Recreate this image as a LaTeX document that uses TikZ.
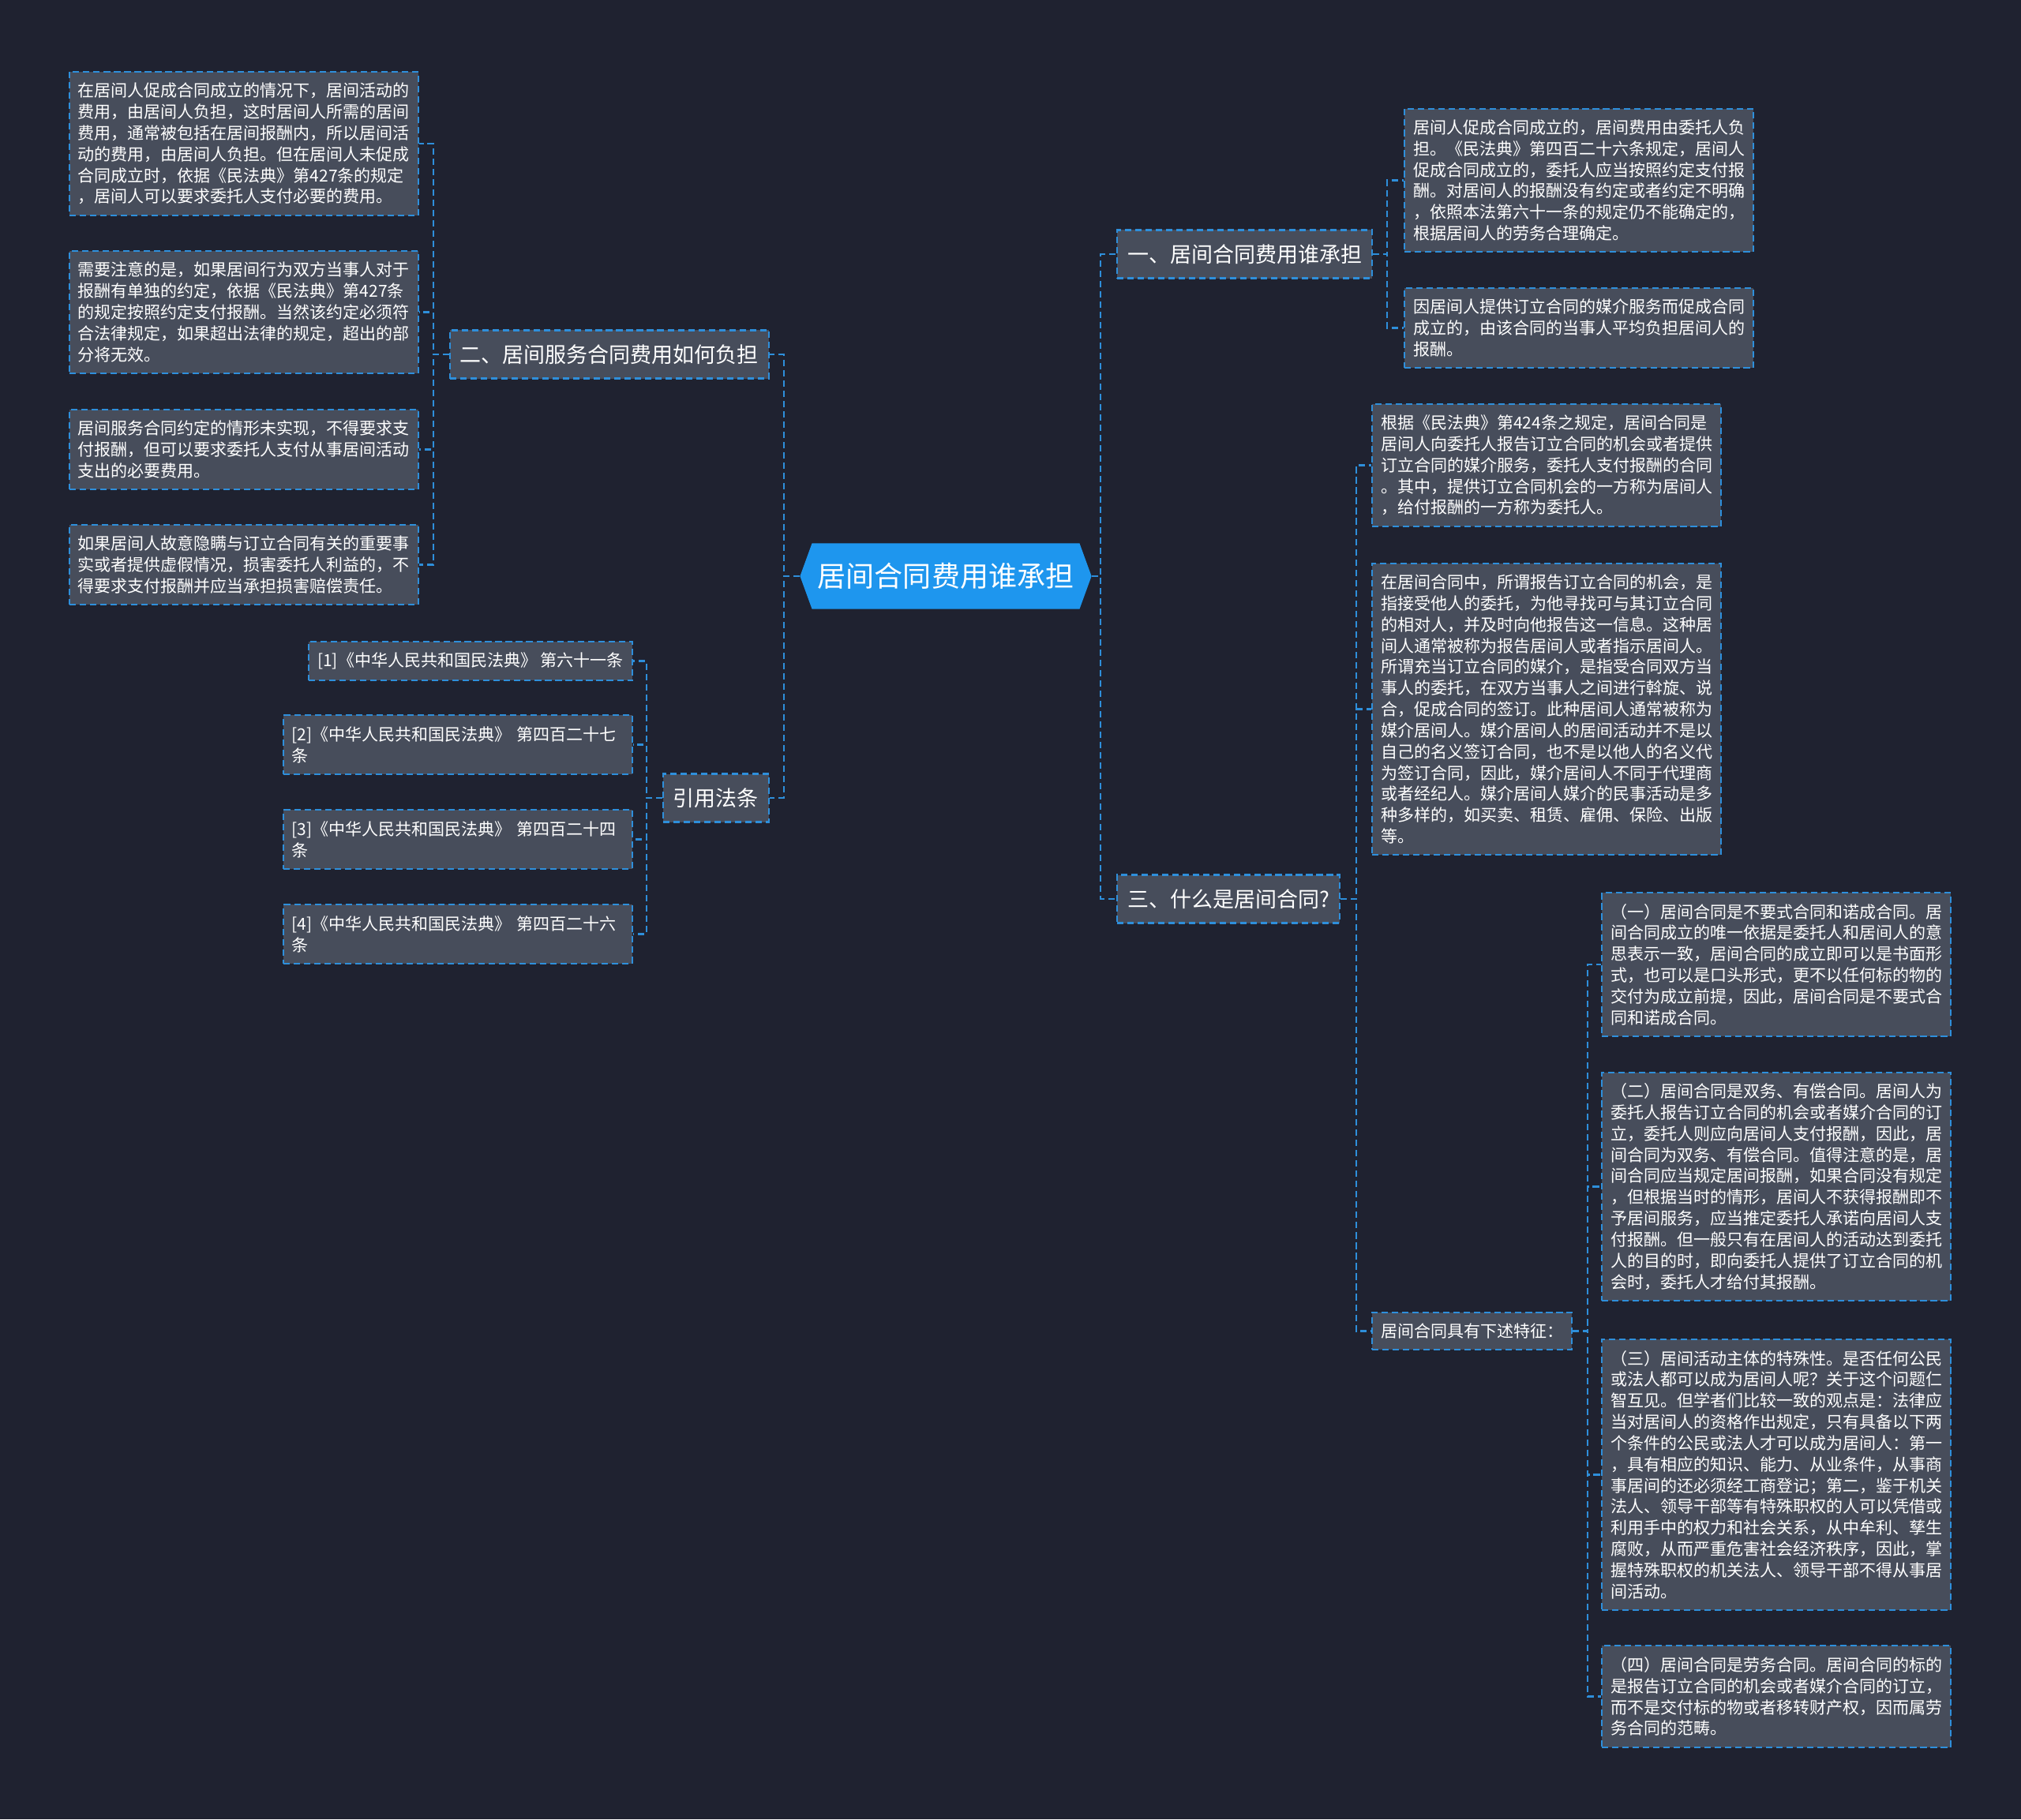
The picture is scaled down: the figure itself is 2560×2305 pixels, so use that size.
\documentclass[tikz,border=0pt]{standalone}
\usepackage{fontspec}
\setmainfont{Noto Sans CJK SC}
\usepackage{tikz}
\usetikzlibrary{shapes.symbols}
\definecolor{bgnavy}{HTML}{1F2230}
\definecolor{boxgray}{HTML}{474D5B}
\definecolor{linkblue}{HTML}{2E8FDB}
\definecolor{rootblue}{HTML}{1E96EE}

\begin{document}
\begin{tikzpicture}[x=0.01cm, y=-0.01cm,
        every node/.style={text=white},
        rootbox/.style={signal, signal to=west and east, signal pointer angle=140,
                fill=rootblue, minimum width=3.69cm, minimum height=0.83cm, inner sep=0pt,
                font=\fontsize{10.24pt}{12pt}\selectfont},
        topic/.style={draw=linkblue, dash pattern=on 2.3pt off 1.4pt, line width=0.6pt,
                fill=boxgray, minimum height=0.61cm, inner xsep=0.13cm, inner ysep=0pt,
                font=\fontsize{7.68pt}{9pt}\selectfont},
        card/.style={draw=linkblue, dash pattern=on 2.3pt off 1.4pt, line width=0.6pt,
                fill=boxgray, inner xsep=0.11cm, inner ysep=0.14cm,
                font=\fontsize{5.975pt}{7.63pt}\selectfont},
        leaf/.style={card, text width=4.2cm, align=left},
        link/.style={draw=linkblue, dash pattern=on 2.3pt off 1.4pt, line width=0.6pt}
    ]

    % ================= background =================
    \fill[bgnavy] (0,0) rectangle (2560,2305);

    % ================= root and topics =================
    \node[rootbox] (root) at (1198,730) {居间合同费用谁承担};
    \node[topic, anchor=west] (t1) at (1414,322) {一、居间合同费用谁承担};
    \node[topic, anchor=west] (t3) at (1414,1139) {三、什么是居间合同?};
    \node[topic, anchor=east] (t2) at (975,449) {二、居间服务合同费用如何负担};
    \node[topic, anchor=east] (t4) at (975,1011) {引用法条};

    % ================= 一 =================
    \node[leaf, anchor=west] (a1) at (1778,228.5) {居间人促成合同成立的，居间费用由委托人负\\
        担。《民法典》第四百二十六条规定，居间人\\促成合同成立的，委托人应当按照约定支付报\\
        酬。对居间人的报酬没有约定或者约定不明确\\，依照本法第六十一条的规定仍不能确定的，\\
        根据居间人的劳务合理确定。};
    \node[leaf, anchor=west] (a2) at (1778,415.5) {因居间人提供订立合同的媒介服务而促成合同\\
        成立的，由该合同的当事人平均负担居间人的\\报酬。};

    % ================= 三 =================
    \node[leaf, anchor=west] (c1) at (1737,589.5) {根据《民法典》第424条之规定，居间合同是\\
        居间人向委托人报告订立合同的机会或者提供\\订立合同的媒介服务，委托人支付报酬的合同\\
        。其中，提供订立合同机会的一方称为居间人\\，给付报酬的一方称为委托人。};
    \node[leaf, anchor=west] (c2) at (1737,898.5) {在居间合同中，所谓报告订立合同的机会，是\\
        指接受他人的委托，为他寻找可与其订立合同\\的相对人，并及时向他报告这一信息。这种居\\
        间人通常被称为报告居间人或者指示居间人。\\所谓充当订立合同的媒介，是指受合同双方当\\
        事人的委托，在双方当事人之间进行斡旋、说\\合，促成合同的签订。此种居间人通常被称为\\
        媒介居间人。媒介居间人的居间活动并不是以\\自己的名义签订合同，也不是以他人的名义代\\
        为签订合同，因此，媒介居间人不同于代理商\\或者经纪人。媒介居间人媒介的民事活动是多\\
        种多样的，如买卖、租赁、雇佣、保险、出版\\等。};
    \node[card, anchor=west] (c3) at (1737,1686.5) {居间合同具有下述特征：};

    \node[leaf, anchor=west] (d1) at (2028,1222) {（一）居间合同是不要式合同和诺成合同。居\\
        间合同成立的唯一依据是委托人和居间人的意\\思表示一致，居间合同的成立即可以是书面形\\
        式，也可以是口头形式，更不以任何标的物的\\交付为成立前提，因此，居间合同是不要式合\\
        同和诺成合同。};
    \node[leaf, anchor=west] (d2) at (2028,1503.5) {（二）居间合同是双务、有偿合同。居间人为\\
        委托人报告订立合同的机会或者媒介合同的订\\立，委托人则应向居间人支付报酬，因此，居\\
        间合同为双务、有偿合同。值得注意的是，居\\间合同应当规定居间报酬，如果合同没有规定\\
        ，但根据当时的情形，居间人不获得报酬即不\\予居间服务，应当推定委托人承诺向居间人支\\
        付报酬。但一般只有在居间人的活动达到委托\\人的目的时，即向委托人提供了订立合同的机\\
        会时，委托人才给付其报酬。};
    \node[leaf, anchor=west] (d3) at (2028,1868.5) {（三）居间活动主体的特殊性。是否任何公民\\
        或法人都可以成为居间人呢？关于这个问题仁\\智互见。但学者们比较一致的观点是：法律应\\
        当对居间人的资格作出规定，只有具备以下两\\个条件的公民或法人才可以成为居间人：第一\\
        ，具有相应的知识、能力、从业条件，从事商\\事居间的还必须经工商登记；第二，鉴于机关\\
        法人、领导干部等有特殊职权的人可以凭借或\\利用手中的权力和社会关系，从中牟利、孳生\\
        腐败，从而严重危害社会经济秩序，因此，掌\\握特殊职权的机关法人、领导干部不得从事居\\
        间活动。};
    \node[leaf, anchor=west] (d4) at (2028,2149.5) {（四）居间合同是劳务合同。居间合同的标的\\
        是报告订立合同的机会或者媒介合同的订立，\\而不是交付标的物或者移转财产权，因而属劳\\
        务合同的范畴。};

    % ================= 二 =================
    \node[leaf, anchor=east] (b1) at (531,182) {在居间人促成合同成立的情况下，居间活动的\\
        费用，由居间人负担，这时居间人所需的居间\\费用，通常被包括在居间报酬内，所以居间活\\
        动的费用，由居间人负担。但在居间人未促成\\合同成立时，依据《民法典》第427条的规定\\
        ，居间人可以要求委托人支付必要的费用。};
    \node[leaf, anchor=east] (b2) at (531,395.5) {需要注意的是，如果居间行为双方当事人对于\\
        报酬有单独的约定，依据《民法典》第427条\\的规定按照约定支付报酬。当然该约定必须符\\
        合法律规定，如果超出法律的规定，超出的部\\分将无效。};
    \node[leaf, anchor=east] (b3) at (531,569.5) {居间服务合同约定的情形未实现，不得要求支\\
        付报酬，但可以要求委托人支付从事居间活动\\支出的必要费用。};
    \node[leaf, anchor=east] (b4) at (531,715.5) {如果居间人故意隐瞒与订立合同有关的重要事\\
        实或者提供虚假情况，损害委托人利益的，不\\得要求支付报酬并应当承担损害赔偿责任。};

    % ================= 引用法条 =================
    \node[card, anchor=east] (r1) at (802,837.5) {[1]《中华人民共和国民法典》 第六十一条};
    \node[leaf, anchor=east] (r2) at (802,943.5) {[2]《中华人民共和国民法典》 第四百二十七\\条};
    \node[leaf, anchor=east] (r3) at (802,1063.5) {[3]《中华人民共和国民法典》 第四百二十四\\条};
    \node[leaf, anchor=east] (r4) at (802,1183.5) {[4]《中华人民共和国民法典》 第四百二十六\\条};

    % ================= connectors =================
    \draw[link] (root.east) -- ++(11,0) |- (t1.west);
    \draw[link] (root.east) -- ++(11,0) |- (t3.west);
    \draw[link] (root.west) -- ++(-20,0) |- (t2.east);
    \draw[link] (root.west) -- ++(-20,0) |- (t4.east);

    \draw[link] (t1.east) -- ++(18,0) |- (a1.west);
    \draw[link] (t1.east) -- ++(18,0) |- (a2.west);

    \draw[link] (t3.east) -- ++(20,0) |- (c1.west);
    \draw[link] (t3.east) -- ++(20,0) |- (c2.west);
    \draw[link] (t3.east) -- ++(20,0) |- (c3.west);
    \draw[link] (c3.east) -- ++(19,0) |- (d1.west);
    \draw[link] (c3.east) -- ++(19,0) |- (d2.west);
    \draw[link] (c3.east) -- ++(19,0) |- (d3.west);
    \draw[link] (c3.east) -- ++(19,0) |- (d4.west);

    \draw[link] (t2.west) -- ++(-20,0) |- (b1.east);
    \draw[link] (t2.west) -- ++(-20,0) |- (b2.east);
    \draw[link] (t2.west) -- ++(-20,0) |- (b3.east);
    \draw[link] (t2.west) -- ++(-20,0) |- (b4.east);

    \draw[link] (t4.west) -- ++(-20,0) |- (r1.east);
    \draw[link] (t4.west) -- ++(-20,0) |- (r2.east);
    \draw[link] (t4.west) -- ++(-20,0) |- (r3.east);
    \draw[link] (t4.west) -- ++(-20,0) |- (r4.east);

\end{tikzpicture}
\end{document}
